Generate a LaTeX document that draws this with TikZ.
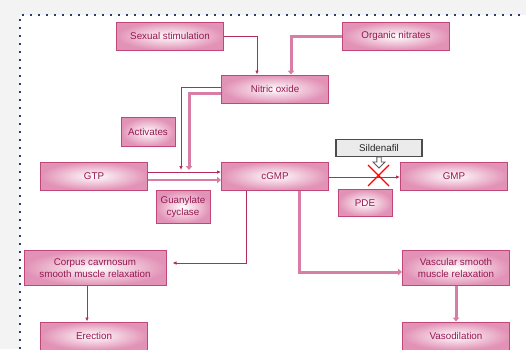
\documentclass[tikz,border=0pt]{standalone}
\usepackage{fontspec}
\setmainfont{Liberation Sans}
\usetikzlibrary{positioning,calc,arrows.meta,shapes.arrows}
\definecolor{boxline}{RGB}{192,72,120}
\definecolor{boxfill}{RGB}{226,146,182}
\definecolor{boxtext}{RGB}{150,22,80}
\definecolor{thinred}{RGB}{180,44,90}
\definecolor{thickpink}{RGB}{216,126,166}
\definecolor{dotblue}{RGB}{40,62,112}
\definecolor{pagegray}{RGB}{243,243,243}

\begin{document}
\begin{tikzpicture}[x=1pt,y=-1pt,font=\fontsize{9.8}{11.5}\selectfont,node distance=5pt,
          bx/.style ={draw=boxline,line width=1pt,inner color=white,outer color=boxfill,text=boxtext,align=center,minimum width=107pt,minimum height=28pt,inner sep=2pt},
          sbx/.style={bx,minimum width=54pt},
          gbx/.style={draw=black!70,line width=1.1pt,fill=black!8,text=black!85,minimum width=86pt,minimum height=17pt,inner sep=1pt},
          thin/.style ={draw=thinred,line width=0.8pt,-{Latex[length=4pt,width=3.5pt]}},
          thick/.style={draw=thickpink,line width=3pt,-{Triangle[length=4pt,width=6.5pt]}}]
        \useasboundingbox (0,0) rectangle (526,349);
        \fill[pagegray] (0,0) rectangle (526,349);
        \fill[white] (20,15) rectangle (526,349);
        \draw[dotblue,line width=1.8pt,dash pattern=on 1.8pt off 6.2pt] (20,349) -- (20,15) -- (526,15);
        % top row
        \node[bx] (sex) at (170,36) {Sexual stimulation};
        \node[bx] (nitr) at (396,36) {Organic nitrates};
        \node[bx] (no) at (275,89) {Nitric oxide};
        \node[sbx,minimum height=29pt] (act) at (148,132) {Activates};
        % middle row
        \node[bx] (gtp) at (94,176) {GTP};
        \node[bx] (cgmp) at (275,176) {cGMP};
        \node[bx] (gmp) at (454,176) {GMP};
        \node[sbx,minimum height=33pt] (gc) at (183,207) {Guanylate\\cyclase};
        \node[sbx,minimum height=27pt] (pde) at (365,203) {PDE};
        \node[gbx] (sild) at (379,148) {Sildenafil};
        \node[single arrow,draw=black!65,line width=0.9pt,fill=white,shape border rotate=270,minimum height=11pt,minimum width=12pt,single arrow head extend=2.5pt,inner sep=1pt] (sarr) [below=-0.5pt of sild] {};
        % bottom rows
        \node[bx,minimum width=142pt,minimum height=35pt] (ccsm) at (95,268) {Corpus cavrnosum\\smooth muscle relaxation};
        \node[bx,minimum height=35pt] (vsm) at (456,268) {Vascular smooth\\muscle relaxation};
        \node[bx] (erec) at (94,336) {Erection};
        \node[bx] (vaso) at (456,336) {Vasodilation};
        % connectors
        \draw[thin] (sex.east) -| ($(no.north west)+(36,0)$);
        \draw[thick] (nitr.west) -| ($(no.north west)+(70,0)$);
        \draw[thin] ($(no.west)+(0,-2)$) -| (181,170);
        \draw[thick] ($(no.west)+(0,4)$) -| (189,170);
        \draw[thin] ($(gtp.east)+(0,-4)$) -- ($(cgmp.west)+(0,-4)$);
        \draw[thick,line width=2.2pt] ($(gtp.east)+(0,4)$) -- ($(cgmp.west)+(0,4)$);
        \draw[thin] ($(cgmp.east)+(0,1)$) -- ($(gmp.west)+(0,1)$);
        \draw[red,line width=1.3pt] (368,165) -- (389,186) (368,186) -- (389,165);
        \draw[thin] ($(cgmp.south west)+(25,0)$) |- ($(ccsm.east)+(6,-5)$);
        \draw[thick] ($(cgmp.south west)+(78,0)$) |- ($(vsm.west)+(0,4)$);
        \draw[thin] ($(ccsm.south)+(-8,0)$) -- ($(erec.north)+(-7,0)$);
        \draw[thick] (vsm.south) -- (vaso.north);
      \end{tikzpicture}
\end{document}
